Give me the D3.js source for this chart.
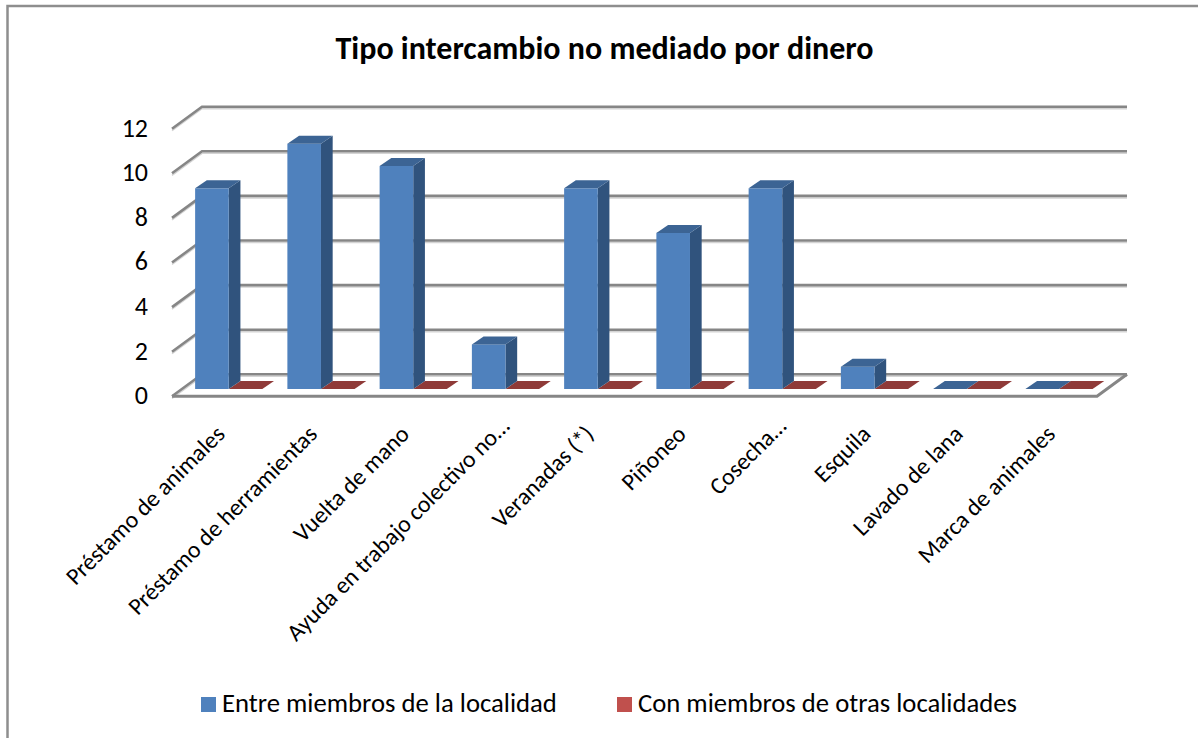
<!DOCTYPE html>
<html>
<head>
<meta charset="utf-8">
<script src="https://cdn.jsdelivr.net/npm/d3@7"></script>
<style>
  html, body { margin: 0; padding: 0; background: #fff; }
  svg { display: block; }
  text { font-family: Carlito, Lato, sans-serif; fill: #000; }
</style>
</head>
<body>
<div id="chart"></div>
<script>
const categories = ['Préstamo de animales', 'Préstamo de herramientas', 'Vuelta de mano',
  'Ayuda en trabajo colectivo no…', 'Veranadas (*)', 'Piñoneo', 'Cosecha…', 'Esquila',
  'Lavado de lana', 'Marca de animales']
const seriesNames = ['Entre miembros de la localidad', 'Con miembros de otras localidades']
const entreMiembros = [9, 11, 10, 2, 9, 7, 9, 1, 0, 0]
const conMiembros = [0, 0, 0, 0, 0, 0, 0, 0, 0, 0]
const yTicks = [0, 2, 4, 6, 8, 10, 12]

const COLORS = [
  { front: '#4f81bd', side: '#30537d', top: '#3c6494' },
  { front: '#c0504d', side: '#7d3432', top: '#8f3a38' }
]
const GRID = '#868686'

const width = 1198
const height = 738

const svg = d3.select('#chart').append('svg')
  .attr('width', width)
  .attr('height', height)

// Outer frame of the chart area, runs off the page at right and bottom
svg.append('path')
  .attr('d', 'M7.5,738V6H1198')
  .attr('fill', 'none')
  .attr('stroke', '#8e8e8e')
  .attr('stroke-width', 2.5)

// Scales are for the plane the bars stand on; walls are offset from it
const x = d3.scaleBand().domain(categories).range([182.6, 1105.1])
const xInner = d3.scaleBand().domain(seriesNames).range([0, x.step()]).paddingOuter(0.373).paddingInner(0)
const y = d3.scaleLinear().domain([0, 12]).range([389, 121.4])

const barW = xInner.bandwidth()
const depthX = 11.7
const depthY = 8

// back wall / floor corners
const wall = { left: 202, right: 1127, dy: -14.7 }
const floor = { dx: 30, dy: 22 }

const gridLine = (d, stroke, w, shift) => d
  .attr('fill', 'none')
  .attr('stroke', stroke)
  .attr('stroke-width', w)
  .attr('d', v => {
    const yb = y(v) + wall.dy + shift
    return `M${wall.left - floor.dx},${yb + floor.dy}L${wall.left},${yb}H${wall.right}`
  })

// Grid with its light under-edge
svg.append('g').selectAll('path').data(yTicks).join('path').call(gridLine, '#d4d4d4', 1.5, 2)
svg.append('g').selectAll('path').data(yTicks).join('path').call(gridLine, GRID, 2.6, 0)

// Floor edges
const y0 = y(0) + wall.dy
svg.append('path')
  .attr('d', `M${wall.left - floor.dx},${y0 + floor.dy}H${wall.right - floor.dx}L${wall.right},${y0}`)
  .attr('fill', 'none')
  .attr('stroke', GRID)
  .attr('stroke-width', 3)

// Y axis labels
const yAxis = svg.append('g')
  .attr('transform', `translate(156,${wall.dy + floor.dy - 1})`)
  .call(d3.axisLeft(y).tickValues(yTicks).tickSize(0).tickPadding(8))
yAxis.select('.domain').remove()
yAxis.selectAll('text').attr('font-size', 26).style('font-family', 'Carlito, Lato, sans-serif')

// Bars, red series first at each category's right so blue side overlaps it
const allSeries = [entreMiembros, conMiembros]
const bars = svg.append('g')
categories.forEach((c, i) => {
  [1, 0].forEach(s => {
    const v = allSeries[s][i]
    const col = COLORS[s]
    const xl = x(c) + xInner(seriesNames[s])
    const xr = xl + barW
    const yt = y(v)
    const yb = y(0)
    const g = bars.append('g')
    if (v > 0) {
      g.append('path').attr('fill', col.side)
        .attr('d', `M${xr},${yt}L${xr + depthX},${yt - depthY}V${yb - depthY}L${xr},${yb}Z`)
      g.append('rect').attr('fill', col.front)
        .attr('x', xl).attr('y', yt).attr('width', barW).attr('height', yb - yt)
    }
    g.append('path').attr('fill', col.top)
      .attr('d', `M${xl},${yt}L${xl + depthX},${yt - depthY}H${xr + depthX}L${xr},${yt}Z`)
  })
})

// Category labels, rotated and ending under each category
// the truncated ones run a bit further along the baseline
svg.append('g').selectAll('text').data(categories).join('text')
  .attr('transform', d => `translate(${x(d) + x.step() / 2 - 2.5},435.5) rotate(-45)`)
  .attr('text-anchor', 'end')
  .attr('dx', d => d.endsWith('…') ? 11 : 0)
  .attr('font-size', 23.8)
  .text(d => d)

svg.append('text')
  .attr('x', 604.5)
  .attr('y', 59)
  .attr('text-anchor', 'middle')
  .attr('font-size', 32)
  .attr('font-weight', 700)
  .text('Tipo intercambio no mediado por dinero')

// Legend
const legendX = [201, 617]
const legend = svg.append('g').selectAll('g').data(seriesNames).join('g')
  .attr('transform', (d, i) => `translate(${legendX[i]},697)`)
legend.append('rect')
  .attr('width', 15).attr('height', 15)
  .attr('fill', (d, i) => COLORS[i].front)
legend.append('text')
  .attr('x', 21).attr('y', 15)
  .attr('font-size', 26.7)
  .text(d => d)
</script>
</body>
</html>
